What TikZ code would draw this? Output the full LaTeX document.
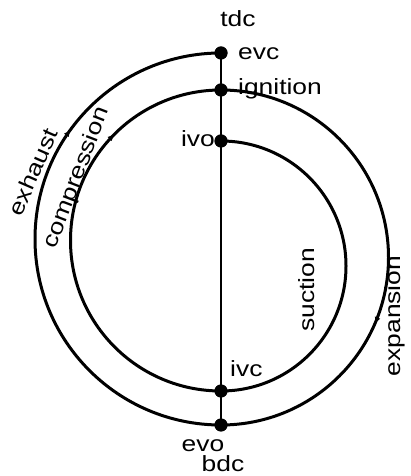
\documentclass[tikz,border=0pt]{standalone}
\usepackage{fontspec}
\setmainfont{Liberation Sans}
\usetikzlibrary{decorations.markings,arrows.meta}
\tikzset{
  stroke/.style={line width=3pt, black},
  axisline/.style={line width=1.2pt, black},
  dotnode/.style={circle, fill=black, inner sep=0pt, minimum size=13pt},
  lbl/.style={font=\fontsize{22}{24}\selectfont, inner sep=0pt, text=black},
  arrowat/.style={postaction={decorate}, decoration={markings,
    mark=at position #1 with {\arrow{Latex[length=7pt,width=6pt]}}}}
}
\newcommand{\stretched}[1]{\scalebox{1.2}[1]{#1}}
\begin{document}
\begin{tikzpicture}[x=1pt,y=1pt]
\useasboundingbox[fill=white] (0,0) rectangle (411,476);
% dots
\node[dotnode] (evc) at (221,423) {};
\node[dotnode] (ign) at (221,386) {};
\node[dotnode] (ivo) at (221,335) {};
\node[dotnode] (ivc) at (221,85) {};
\node[dotnode] (evo) at (221,51) {};
% vertical line
\draw[axisline] (evc.center) -- (evo.center);
% strokes
\draw[stroke, arrowat=0.70] (evo.center) arc[start angle=270, end angle=90, radius=186];
\draw[stroke, arrowat=0.75] (ivc.center) arc[start angle=270, end angle=90, radius=150.5];
\draw[stroke] (ivo.center) arc[start angle=90, end angle=-90, radius=125];
\draw[stroke, arrowat=0.63] (ign.center) arc[start angle=90, end angle=-90, radius=167.5];
% redraw dots on top
\foreach \d in {evc,ign,ivo,ivc,evo} \fill[black] (\d) circle (6.5pt);
% labels
\node[lbl] (tdc) at (238,457) {\stretched{tdc}};
\node[lbl, anchor=west] (tevc) at (238,422) {\stretched{evc}};
\node[lbl, anchor=west] (tign) at (238,387) {\stretched{ignition}};
\node[lbl, anchor=east] (tivo) at (215,337) {\stretched{ivo}};
\node[lbl, anchor=west] (tivc) at (230,107) {\stretched{ivc}};
\node[lbl] (tevo) at (203,30) {\stretched{evo}};
\node[lbl] (tbdc) at (223,12) {\stretched{bdc}};
\node[lbl, rotate=66.5] (texh) at (33,304) {\stretched{exhaust}};
\node[lbl, rotate=69] (tcomp) at (77,298) {\stretched{compression}};
\node[lbl, rotate=90] (tsuc) at (307,186) {\stretched{suction}};
\node[lbl, rotate=90] (texp) at (395,160) {\stretched{expansion}};
\end{tikzpicture}
\end{document}
